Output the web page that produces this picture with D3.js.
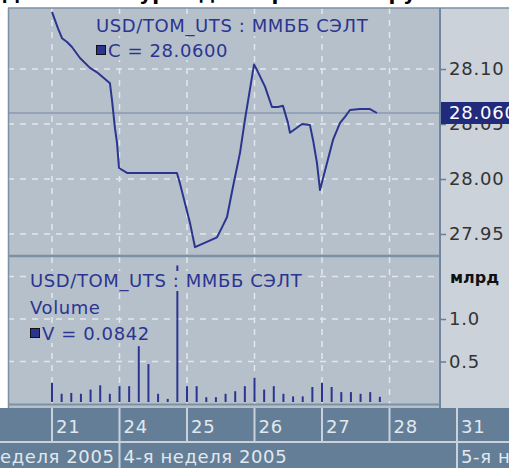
<!DOCTYPE html>
<html><head><meta charset="utf-8">
<script src="https://cdn.jsdelivr.net/npm/d3@7"></script>
<style>
html,body{margin:0;padding:0;background:#fff;}
svg{display:block;font-family:"DejaVu Sans",sans-serif;}
</style></head>
<body><svg id="c" width="509" height="468"></svg>
<script>
// ---------- data ----------
const titleText = "Динамика курса доллара США к рублю";
const instrument = "USD/TOM_UTS : ММББ СЭЛТ";
const dayLabels = ["21","24","25","26","27","28","31"];
const dayStart = [0,7,14,21,28,35,42];          // slot index where each day begins (7 hourly slots/day)
const weekLabels = ["3-я неделя 2005","4-я неделя 2005","5-я неделя 2005"];
const weekStart = [-28,7,42];
// price (close) path: slot position and price
const priceT = [0,0.62,1.04,1.56,2.07,2.90,3.94,4.67,6.01,6.22,6.53,6.74,6.95,7.78,12.96,13.27,13.79,14.31,14.83,17.11,17.63,18.15,18.77,19.50,20.01,20.95,21.26,22.09,22.81,23.44,23.95,24.47,24.68,25.93,26.75,27.07,27.48,27.79,28.52,29.14,29.87,30.38,30.90,31.94,32.98,33.70];
const priceV = [28.152,28.137,28.128,28.1245,28.120,28.110,28.101,28.097,28.087,28.072,28.046,28.033,28.010,28.0055,28.0055,27.996,27.978,27.960,27.938,27.947,27.956,27.9655,27.993,28.024,28.054,28.104,28.099,28.084,28.0655,28.0655,28.0665,28.051,28.042,28.050,28.049,28.0355,28.0145,27.990,28.0145,28.0355,28.051,28.0565,28.0627,28.0636,28.0636,28.060];
const lastPrice = 28.06;
const priceTicks = [27.95,28.00,28.05,28.10];
// hourly volume, billions
const volume = [0.25,0.12,0.13,0.12,0.17,0.22,0.12, 0.21,0.21,0.68,0.47,0.12,0.06,1.63, 0.21,0.21,0.08,0.08,0.12,0.15,0.21, 0.31,0.17,0.21,0.12,0.09,0.09,0.20, 0.25,0.20,0.14,0.14,0.12,0.14,0.0842];
const lastVolume = 0.0842;
const volTicks = [0.5,1.0];
const volGrid = [0.5,1.0,1.5];

// ---------- layout ----------
const svg = d3.select("#c");
const L = 8, R = 440, W = 509;
const pTop = 8, pBot = 255, vTop = 257, vBot = 404, bandTop = 408, bandMid = 442, H = 468;
const FONT = 18;
const BG = "#b6c0ca", RP = "#cbd2da", BAND = "#637e96", NAVY = "#2b3590", SEP = "#7d91a5";

const x = d3.scaleLinear().domain([0,42]).range([52,457]);
const yP = d3.scaleLinear().domain([27.95,28.10]).range([234,69]);
const yV = d3.scaleLinear().domain([0,1]).range([vBot,319]);

// title (cut at top)
svg.append("text").attr("x",2).attr("y",0).attr("font-size",20).attr("font-weight","bold")
  .attr("fill","#000").text(titleText);

// panels
svg.append("rect").attr("x",L).attr("y",pTop).attr("width",R-L).attr("height",bandTop-pTop).attr("fill",BG);
svg.append("rect").attr("x",R).attr("y",pTop).attr("width",W-R).attr("height",bandTop-pTop).attr("fill",RP);

const defs = svg.append("defs");
defs.append("clipPath").attr("id","cp").append("rect").attr("x",L).attr("y",pTop).attr("width",R-L).attr("height",pBot-pTop);
defs.append("clipPath").attr("id","cv").append("rect").attr("x",L).attr("y",vTop).attr("width",R-L).attr("height",vBot-vTop);

const gridStyle = g => g.attr("stroke","#e2e7ee").attr("stroke-width",1.5).attr("stroke-dasharray","6,6");

// grids price
const gp = svg.append("g").attr("clip-path","url(#cp)");
gp.selectAll("line.v").data(dayStart).join("line").call(gridStyle)
  .attr("x1",d=>x(d)).attr("x2",d=>x(d)).attr("y1",pTop).attr("y2",pBot);
gp.selectAll("line.h").data(priceTicks).join("line").call(gridStyle)
  .attr("x1",L).attr("x2",R).attr("y1",d=>yP(d)).attr("y2",d=>yP(d));
// current price line
gp.append("line").attr("x1",L).attr("x2",R).attr("y1",yP(lastPrice)).attr("y2",yP(lastPrice))
  .attr("stroke","#8a99b3").attr("stroke-width",1.5);

// grids volume
const gv = svg.append("g").attr("clip-path","url(#cv)");
gv.selectAll("line.v").data(dayStart).join("line").call(gridStyle)
  .attr("x1",d=>x(d)).attr("x2",d=>x(d)).attr("y1",vTop).attr("y2",vBot);
gv.selectAll("line.h").data(volGrid).join("line").call(gridStyle)
  .attr("x1",L).attr("x2",R).attr("y1",d=>yV(d)).attr("y2",d=>yV(d));

// legend helper with background
function legendLine(g, tx, ty, txt, square){
  const grp = g.append("g");
  const bg = grp.append("rect").attr("fill",BG);
  let off = 0;
  if(square){
    grp.append("rect").attr("x",tx+0.5).attr("y",ty-11.5).attr("width",9).attr("height",9)
      .attr("fill",NAVY).attr("stroke","#111").attr("stroke-width",1);
    off = 12;
  }
  const t = grp.append("text").attr("x",tx+off).attr("y",ty).attr("font-size",FONT)
    .attr("letter-spacing",0.6).attr("fill",NAVY).text(txt);
  const b = t.node().getBBox();
  bg.attr("x",tx-1).attr("y",b.y+1).attr("width",b.x+b.width-tx+2).attr("height",b.height-2);
}

// price line
gp.append("path").datum(priceT.map((t,i)=>[t,priceV[i]]))
  .attr("fill","none").attr("stroke",NAVY).attr("stroke-width",2).attr("stroke-linejoin","round")
  .attr("d",d3.line().x(d=>x(d[0])).y(d=>yP(d[1])));

legendLine(svg, 96, 32, instrument, false);
legendLine(svg, 96, 57, "C = " + lastPrice.toFixed(4), true);

// volume bars
gv.selectAll("line.bar").data(volume).join("line")
  .attr("x1",(d,i)=>x(i)).attr("x2",(d,i)=>x(i)).attr("y1",vBot-2).attr("y2",d=>yV(d))
  .attr("stroke",NAVY).attr("stroke-width",2);

legendLine(svg, 30, 287, instrument, false);
legendLine(svg, 30, 314, "Volume", false);
legendLine(svg, 30, 340, "V = " + lastVolume.toFixed(4), true);

// separators / borders
svg.append("line").attr("x1",L).attr("x2",R).attr("y1",256).attr("y2",256).attr("stroke",SEP).attr("stroke-width",2.5);
svg.append("line").attr("x1",L).attr("x2",R).attr("y1",vBot+0.5).attr("y2",vBot+0.5).attr("stroke",SEP).attr("stroke-width",2);
svg.append("line").attr("x1",L).attr("x2",W).attr("y1",pTop).attr("y2",pTop).attr("stroke",SEP).attr("stroke-width",1.5);
svg.append("line").attr("x1",L+0.5).attr("x2",L+0.5).attr("y1",pTop).attr("y2",bandTop).attr("stroke",SEP).attr("stroke-width",1.5);
svg.append("line").attr("x1",R).attr("x2",R).attr("y1",pTop).attr("y2",bandTop).attr("stroke","#6f88a2").attr("stroke-width",2);

// right axes
const axP = svg.append("g").attr("transform",`translate(${R},0)`)
  .call(d3.axisRight(yP).tickValues(priceTicks).tickFormat(d3.format(".2f")).tickSize(6).tickPadding(3));
const axV = svg.append("g").attr("transform",`translate(${R},0)`)
  .call(d3.axisRight(yV).tickValues(volTicks).tickFormat(d3.format(".1f")).tickSize(6).tickPadding(3));
[axP,axV].forEach(a=>{
  a.select(".domain").remove();
  a.selectAll(".tick line").attr("stroke","#6a7c90").attr("stroke-width",1.5);
  a.selectAll(".tick text").attr("font-size",FONT).attr("letter-spacing",0.8).attr("fill","#333")
    .attr("font-family","DejaVu Sans, sans-serif");
});
svg.append("text").attr("x",450).attr("y",283).attr("font-size",16).attr("font-weight","bold")
  .attr("fill","#111").text("млрд");

// current price badge
svg.append("rect").attr("x",R+1).attr("y",yP(lastPrice)-11).attr("width",W-R-1).attr("height",22).attr("fill","#222a7c");
svg.append("text").attr("x",449).attr("y",yP(lastPrice)).attr("dy","0.35em").attr("font-size",FONT)
  .attr("letter-spacing",0.8).attr("fill","#fff").text(lastPrice.toFixed(3));

// time axis band
svg.append("rect").attr("x",0).attr("y",bandTop).attr("width",W).attr("height",H-bandTop).attr("fill",BAND);
svg.append("line").attr("x1",0).attr("x2",W).attr("y1",bandMid).attr("y2",bandMid).attr("stroke","#c9d1da").attr("stroke-width",2);
svg.selectAll("line.day").data(dayStart).join("line")
  .attr("x1",d=>x(d)).attr("x2",d=>x(d)).attr("y1",bandTop).attr("y2",bandMid)
  .attr("stroke","#c9d1da").attr("stroke-width",2);
svg.selectAll("text.day").data(dayLabels).join("text")
  .attr("x",(d,i)=>x(dayStart[i])+4).attr("y",433).attr("font-size",FONT).attr("letter-spacing",0.8)
  .attr("fill","#e2e8ef").text(d=>d);
svg.selectAll("line.week").data(weekStart.filter(d=>d>0)).join("line")
  .attr("x1",d=>x(d)).attr("x2",d=>x(d)).attr("y1",bandMid).attr("y2",H)
  .attr("stroke","#c9d1da").attr("stroke-width",2);
svg.selectAll("text.week").data(weekLabels).join("text")
  .attr("x",(d,i)=> i===0 ? x(weekStart[1])-5 : x(weekStart[i])+4)
  .attr("text-anchor",(d,i)=> i===0 ? "end" : "start")
  .attr("y",463).attr("font-size",FONT).attr("letter-spacing",0.6)
  .attr("fill","#e2e8ef").text(d=>d);
</script></body></html>
